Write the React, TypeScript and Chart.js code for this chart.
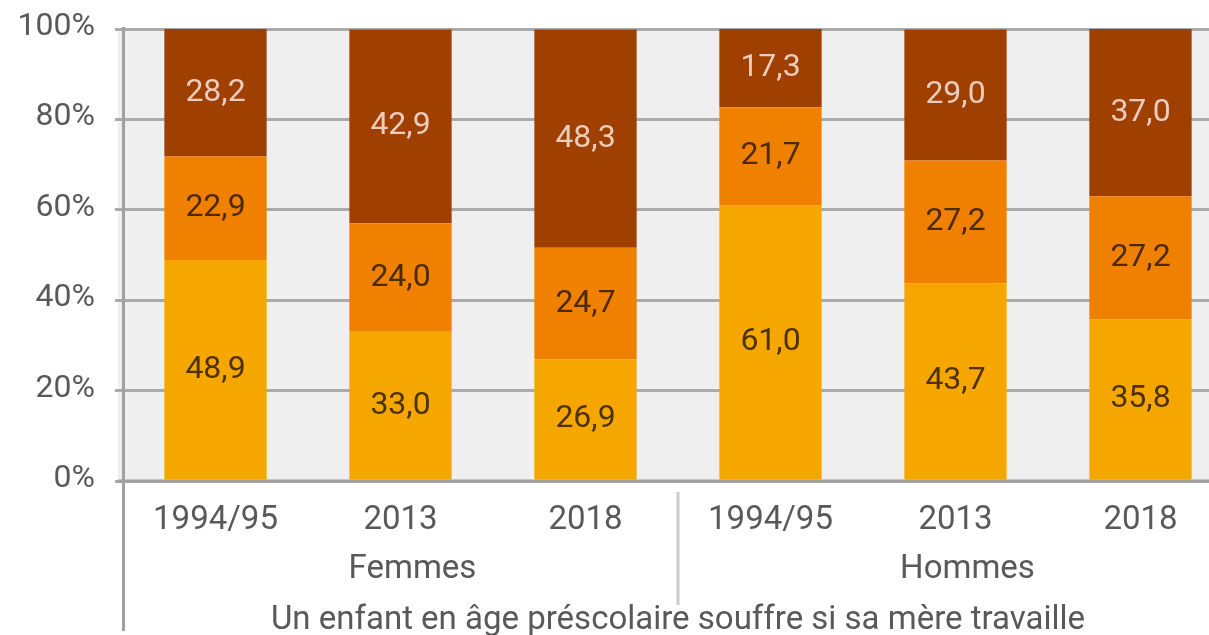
import React, { useEffect, useRef } from "react";
import { Chart, registerables } from "chart.js";

Chart.register(...registerables);

const categories = ["1994/95", "2013", "2018", "1994/95", "2013", "2018"];
const groups = ["Femmes", "Hommes"];
const groupSize = 3;
const axisTitle = "Un enfant en âge préscolaire souffre si sa mère travaille";

const lowValues = [48.9, 33.0, 26.9, 61.0, 43.7, 35.8];
const midValues = [22.9, 24.0, 24.7, 21.7, 27.2, 27.2];
const highValues = [28.2, 42.9, 48.3, 17.3, 29.0, 37.0];

const yTickValues = [0, 20, 40, 60, 80, 100];

const FONT = "Roboto, 'Liberation Sans', Arial, sans-serif";
const TEXT = "#595959";

const overlayPlugin = {
  id: "overlay",
  beforeDraw(chart: any) {
    const { ctx, chartArea } = chart;
    ctx.save();
    ctx.fillStyle = "#efefef";
    ctx.fillRect(chartArea.left - 5, chartArea.top, chartArea.right - chartArea.left + 5, chartArea.bottom - chartArea.top);
    ctx.restore();
  },
  afterDatasetsDraw(chart: any) {
    const { ctx, chartArea } = chart;
    const x = chart.scales.x;
    ctx.save();
    // data labels
    ctx.font = `32px ${FONT}`;
    ctx.textAlign = "center";
    ctx.textBaseline = "middle";
    chart.data.datasets.forEach((ds: any, di: number) => {
      const meta = chart.getDatasetMeta(di);
      meta.data.forEach((bar: any, i: number) => {
        const v = ds.data[i];
        const cy = (bar.y + bar.base) / 2;
        ctx.fillStyle = ds.labelColor;
        ctx.fillText(v.toFixed(1).replace(".", ","), bar.x, cy);
      });
    });
    // left axis line
    ctx.strokeStyle = "#a0a0a0";
    ctx.lineWidth = 3;
    ctx.beginPath();
    ctx.moveTo(chartArea.left + 0.5, chartArea.top - 2);
    ctx.lineTo(chartArea.left + 0.5, chart.height - 4);
    ctx.stroke();
    // bottom axis line
    ctx.beginPath();
    ctx.moveTo(chartArea.left - 5, chartArea.bottom);
    ctx.lineTo(chartArea.right, chartArea.bottom);
    ctx.stroke();
    // group dividers and labels
    const step = x.getPixelForValue(1) - x.getPixelForValue(0);
    ctx.font = `33px ${FONT}`;
    ctx.fillStyle = TEXT;
    groups.forEach((g, gi) => {
      const first = x.getPixelForValue(gi * groupSize);
      const last = x.getPixelForValue(gi * groupSize + groupSize - 1);
      ctx.fillText(g, (first + last) / 2 + 12, chartArea.bottom + 89);
      if (gi > 0) {
        const dx = first - step / 2;
        ctx.strokeStyle = "#cccccc";
        ctx.lineWidth = 3;
        ctx.beginPath();
        ctx.moveTo(dx, chartArea.bottom + 11);
        ctx.lineTo(dx, chartArea.bottom + 124);
        ctx.stroke();
      }
    });
    ctx.fillStyle = TEXT;
    ctx.fillText(axisTitle, (chartArea.left + chartArea.right) / 2, chartArea.bottom + 140);
    ctx.restore();
  },
};

export default function App() {
  const ref = useRef<HTMLCanvasElement>(null);
  useEffect(() => {
    if (!ref.current) return;
    const chart = new Chart(ref.current, {
      type: "bar",
      data: {
        labels: categories,
        datasets: [
          { label: "low", data: lowValues, backgroundColor: "#f5a700", labelColor: "#4d3200" } as any,
          { label: "mid", data: midValues, backgroundColor: "#f08000", labelColor: "#4d2a00" } as any,
          { label: "high", data: highValues, backgroundColor: "#a04000", labelColor: "#ecccbc" } as any,
        ],
      },
      options: {
        animation: false,
        responsive: false,
        devicePixelRatio: 1,
        layout: { padding: { left: 0, right: 7, top: 29, bottom: 0 } },
        plugins: { legend: { display: false }, tooltip: { enabled: false } },
        datasets: { bar: { barPercentage: 0.553, categoryPercentage: 1 } },
        scales: {
          x: {
            stacked: true,
            grid: { display: false },
            border: { display: false },
            ticks: { color: TEXT, font: { family: FONT, size: 33 }, padding: 12, maxRotation: 0 },
            afterFit(scale: any) {
              scale.height = 154;
              scale.paddingLeft = 0;
              scale.paddingRight = 0;
            },
          },
          y: {
            stacked: true,
            min: 0,
            max: 100,
            afterBuildTicks(scale: any) {
              scale.ticks = yTickValues.map((v) => ({ value: v }));
            },
            grid: { color: "#aaaaaa", lineWidth: 3, tickLength: 8 },
            border: { display: false },
            ticks: {
              color: TEXT,
              font: { family: FONT, size: 32 },
              padding: 20,
              labelOffset: -2,
              callback: (v: any) => `${v}%`,
            },
            afterFit(scale: any) {
              scale.width = 123;
              scale.paddingTop = 0;
              scale.paddingBottom = 0;
            },
          },
        },
      },
      plugins: [overlayPlugin],
    });
    return () => chart.destroy();
  }, []);
  return (
    <div style={{ position: "fixed", left: 0, top: 0, width: 1240, height: 635, background: "#fff" }}>
      <canvas ref={ref} width={1240} height={635} />
    </div>
  );
}
